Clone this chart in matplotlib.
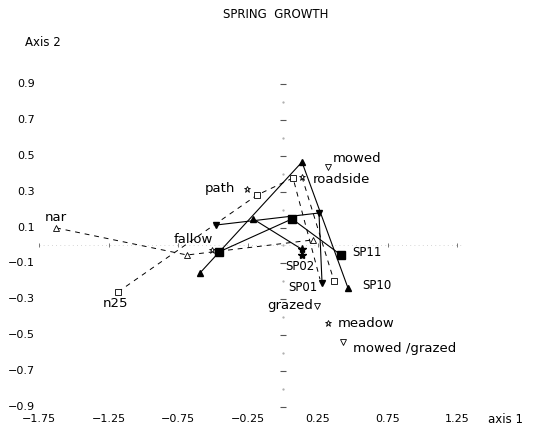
import numpy as np
import matplotlib.pyplot as plt

# sample trajectories (solid lines): axis 1 / axis 2 scores
sp01_x = [-0.48, 0.258, 0.28]
sp01_y = [0.114, 0.181, -0.209]
sp02_x = [-0.215, 0.133, 0.133]
sp02_y = [0.148, -0.02, -0.053]
sp10_x = [-0.595, 0.136, 0.466]
sp10_y = [-0.153, 0.465, -0.237]
sp11_x = [-0.459, 0.065, 0.416]
sp11_y = [-0.036, 0.148, -0.053]

# passive points (open symbols)
tri_x = [-1.627, -0.688, 0.215]
tri_y = [0.098, -0.053, 0.031]
sq_x = [-1.183, -0.186, 0.072, 0.366]
sq_y = [-0.259, 0.281, 0.376, -0.198]
star_x = [-0.26, 0.136, -0.511, 0.325]
star_y = [0.315, 0.382, -0.025, -0.434]
dtri_x = [0.32, 0.246, 0.432]
dtri_y = [0.438, -0.337, -0.538]

# dashed connections
dash_a_x = [-1.627, -0.688, 0.215]
dash_a_y = [0.098, -0.053, 0.031]
dash_b_x = [-1.183, -0.186, 0.072, 0.265]
dash_b_y = [-0.259, 0.281, 0.376, -0.187]
dash_c_x = [0.136, 0.366]
dash_c_y = [0.382, -0.198]

# point labels
labels = ["nar", "n25", "fallow", "path", "roadside", "mowed", "grazed",
          "meadow", "mowed /grazed", "SP01", "SP02", "SP10", "SP11"]
label_x = [-1.627, -1.183, -0.511, -0.26, 0.136, 0.32, 0.246,
           0.325, 0.432, 0.28, 0.133, 0.466, 0.416]
label_y = [0.098, -0.259, -0.025, 0.315, 0.382, 0.438, -0.337,
           -0.434, -0.538, -0.209, -0.053, -0.237, -0.053]

xticks = [-1.75, -1.25, -0.75, -0.25, 0.25, 0.75, 1.25]
yticks = [0.9, 0.7, 0.5, 0.3, 0.1, -0.1, -0.3, -0.5, -0.7, -0.9]

# text placement (offset in points, alignment, size)
offsets = [(0, 7.5, "center", 9.5), (-2, -8, "center", 9.5), (-13, 7.5, "center", 9.5),
           (-8, 0, "right", 9.5), (8, -2, "left", 9.5), (4, 6, "left", 9.5),
           (-3, 0, "right", 9.5), (7, 0, "left", 9.5), (7, -4.5, "left", 9.5),
           (-3.5, -3.5, "right", 8.5), (-1, -8, "center", 8.5),
           (10, 1.5, "left", 8.5), (8, 1.5, "left", 8.5)]

fig = plt.figure(figsize=(5.36, 4.33), dpi=100)
ax = fig.add_axes([0, 0, 1, 1])
ax.set_xlim(-2.029, 1.814)
ax.set_ylim(-1.045, 1.368)
ax.axis("off")

# axes drawn as faint marks through the origin
ax.plot([-1.75, 1.3], [0, 0], color="#c8c8c8", lw=0.6, ls=(0, (1, 4)))
ax.plot(xticks, [0] * len(xticks), ls="none", marker="|", ms=3, color="#777777", mew=0.7)
ax.plot([0] * len(yticks), yticks, ls="none", marker="_", ms=4, color="#555555", mew=0.8)
ax.plot([0] * 9, np.array(yticks[:-1]) - 0.1, ls="none", marker=".", ms=1.2, color="#aaaaaa")

for t in xticks:
    ax.text(t, -0.967, f"{t:.2f}".replace("-", "\u2212"), ha="center", va="center", fontsize=8)
for t in yticks:
    ax.text(-1.778, t, f"{t:.1f}".replace("-", "\u2212"), ha="right", va="center", fontsize=8)
ax.text(1.47, -0.967, "axis 1", ha="left", va="center", fontsize=8.5)
ax.text(-1.849, 1.129, "Axis 2", ha="left", va="center", fontsize=8.5)
ax.text(-0.05, 1.285, "SPRING  GROWTH", ha="center", va="center", fontsize=8.5)

dash = (0, (5, 5))
for xs, ys in [(dash_a_x, dash_a_y), (dash_b_x, dash_b_y), (dash_c_x, dash_c_y)]:
    ax.plot(xs, ys, color="black", lw=0.7, ls=dash)

ax.plot(sp01_x, sp01_y, color="black", lw=0.8, marker="v", ms=4.5)
ax.plot(sp02_x, sp02_y, color="black", lw=0.8, marker="*", ms=6, markevery=[1, 2])
ax.plot(sp10_x, sp10_y, color="black", lw=0.8, marker="^", ms=4.5)
ax.plot(sp11_x, sp11_y, color="black", lw=0.8, marker="s", ms=5.5)
ax.plot([sp02_x[0]], [sp02_y[0]], ls="none", marker="^", ms=4.5, color="black")

open_style = dict(ls="none", mfc="white", mec="black", mew=0.6)
ax.plot(tri_x, tri_y, marker="^", ms=4.5, **open_style)
ax.plot(sq_x, sq_y, marker="s", ms=4, **open_style)
ax.plot(star_x, star_y, marker="*", ms=5, **open_style)
ax.plot(dtri_x, dtri_y, marker="v", ms=4.5, **open_style)

for name, x, y, (dx, dy, ha, size) in zip(labels, label_x, label_y, offsets):
    ax.annotate(name, (x, y), xytext=(dx, dy), textcoords="offset points",
                ha=ha, va="center", fontsize=size)

fig.savefig("out.png", dpi=100)
